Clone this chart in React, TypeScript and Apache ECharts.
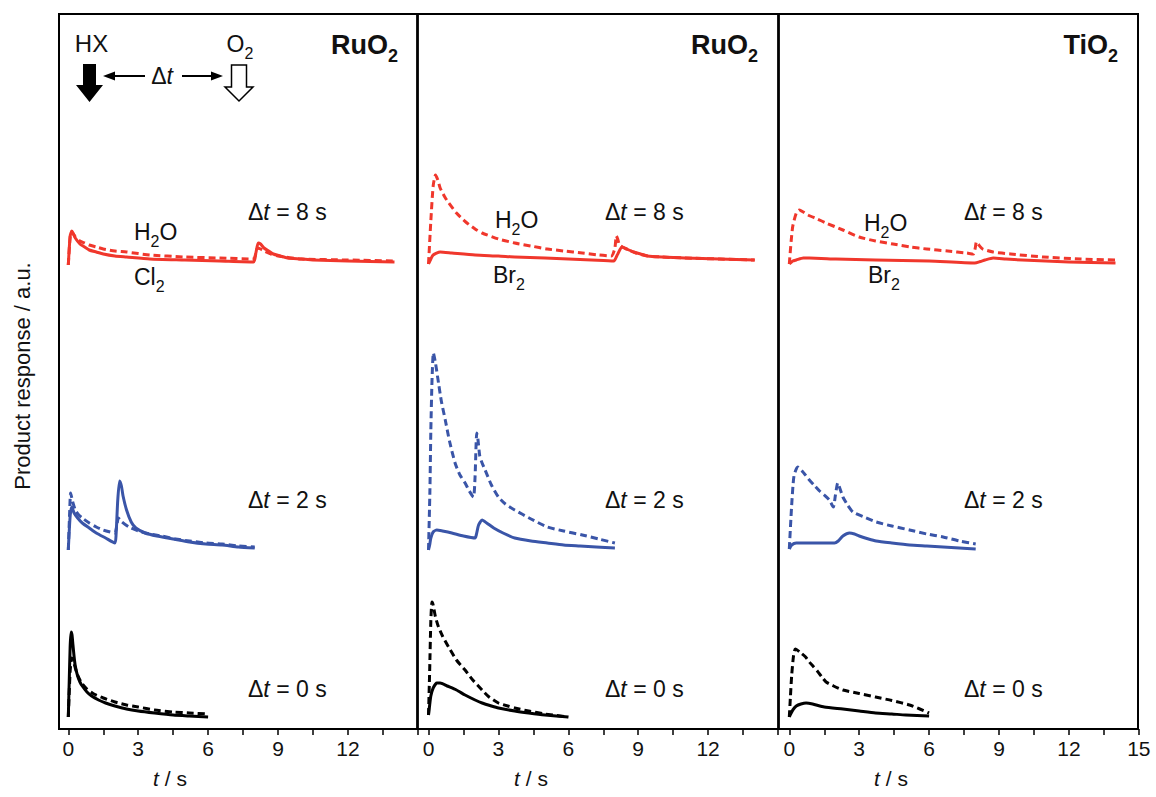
import React, { useEffect, useRef } from "react";
import * as echarts from "echarts";

// ---- data: [t (s), product response (a.u., stacked offset)] ----
const p1Dt0Cl2 = [[0,1.4],[0.04,5],[0.08,8.5],[0.12,9.9],[0.16,9.6],[0.2,8.6],[0.25,7.4],[0.3,6.5],[0.4,5.5],[0.5,4.9],[0.6,4.5],[0.8,3.9],[1.0,3.5],[1.3,3.1],[1.6,2.8],[2.0,2.5],[2.5,2.2],[3,2.0],[3.7,1.8],[4.5,1.6],[5.2,1.5],[6,1.4]];
const p1Dt0H2O = [[0,1.4],[0.08,6.0],[0.15,7.3],[0.22,7.0],[0.3,6.3],[0.4,5.6],[0.57,4.8],[0.8,4.2],[1.1,3.7],[1.5,3.3],[2.0,2.9],[2.5,2.6],[3,2.4],[3.7,2.1],[4.5,1.9],[5.2,1.8],[6,1.7]];
const p1Dt2Cl2 = [[0,18.1],[0.08,21.5],[0.15,22.4],[0.25,21.8],[0.4,21.3],[0.6,20.8],[0.9,20.3],[1.2,19.8],[1.6,19.3],[2.0,18.8],[2.05,19.6],[2.12,23.0],[2.2,25.0],[2.28,24.5],[2.35,23.5],[2.5,22.1],[2.7,20.9],[2.9,20.3],[3.3,19.8],[3.8,19.5],[4.5,19.2],[5.2,18.9],[5.9,18.7],[6.6,18.6],[7.3,18.4],[8,18.3]];
const p1Dt2H2O = [[0,18.1],[0.06,22.0],[0.1,23.8],[0.18,23.0],[0.3,22.1],[0.45,21.6],[0.6,21.3],[0.9,20.8],[1.2,20.4],[1.5,20.1],[1.8,19.9],[2.0,19.8],[2.08,20.5],[2.15,21.3],[2.3,20.9],[2.6,20.4],[3.0,20.0],[3.5,19.7],[4,19.5],[4.6,19.2],[5.2,19.0],[5.9,18.8],[6.6,18.7],[7.3,18.5],[8,18.4]];
const p1Dt8Cl2 = [[0,46.6],[0.08,49.5],[0.15,50.0],[0.22,49.7],[0.3,49.3],[0.5,48.7],[0.7,48.4],[0.9,48.1],[1.2,47.9],[1.5,47.7],[2.0,47.5],[2.5,47.4],[3.5,47.2],[5,47.1],[6.5,47.0],[7.95,46.9],[8.05,47.8],[8.15,48.8],[8.25,48.7],[8.4,48.3],[8.6,48.0],[8.8,47.7],[9.1,47.5],[9.4,47.3],[10,47.2],[10.5,47.1],[12,47.0],[14,46.9]];
const p1Dt8H2O = [[0,46.6],[0.08,49.4],[0.15,49.9],[0.22,49.7],[0.3,49.4],[0.5,49.0],[0.7,48.8],[0.9,48.6],[1.2,48.4],[1.5,48.2],[2.0,48.0],[2.5,47.9],[3.5,47.6],[5,47.4],[6.5,47.3],[7.95,47.2],[8.05,47.8],[8.12,48.3],[8.25,48.2],[8.4,48.0],[8.7,47.7],[9,47.5],[10,47.2],[12,47.1],[14,47.0]];

const p2Dt0Br2 = [[0,1.6],[0.05,2.6],[0.1,3.5],[0.2,4.3],[0.36,4.8],[0.5,4.8],[0.8,4.5],[1.2,4.1],[1.57,3.6],[2.0,3.1],[2.3,2.8],[2.7,2.5],[3,2.3],[3.7,2.0],[4.3,1.8],[5,1.6],[6,1.4]];
const p2Dt0H2O = [[0,1.6],[0.05,6],[0.1,11],[0.15,12.9],[0.2,12.6],[0.3,11.4],[0.43,10.4],[0.6,9.5],[0.86,8.4],[1.2,7.1],[1.57,6.1],[1.9,5.1],[2.3,4.1],[2.6,3.4],[3.0,2.8],[3.4,2.5],[3.7,2.3],[4.3,2.0],[5,1.7],[6,1.4]];
const p2Dt2Br2 = [[0,18.1],[0.05,18.6],[0.1,19.3],[0.2,19.9],[0.36,20.1],[0.6,20.0],[1,19.8],[1.5,19.5],[2.0,19.3],[2.05,19.6],[2.15,20.6],[2.3,21.1],[2.5,20.8],[2.8,20.3],[3.2,19.8],[3.7,19.3],[4.4,19.0],[5.1,18.8],[5.8,18.6],[6.5,18.5],[7.2,18.4],[8,18.3]];
const p2Dt2H2O = [[0,18.1],[0.06,24],[0.1,30],[0.15,35],[0.21,37.8],[0.3,36.8],[0.43,34.8],[0.55,33.0],[0.72,31.1],[0.9,29.0],[1.14,26.8],[1.35,25.6],[1.57,24.8],[1.75,24.0],[1.93,23.4],[2.0,25.5],[2.04,28.5],[2.07,29.8],[2.12,29.2],[2.2,27.5],[2.3,26.8],[2.43,26.1],[2.7,24.6],[3.0,23.4],[3.3,22.7],[3.7,22.1],[4.4,21.2],[5.1,20.4],[5.8,20.0],[6.6,19.6],[7.3,19.2],[8,18.8]];
const p2Dt8Br2 = [[0,46.7],[0.1,47.2],[0.2,47.6],[0.5,47.9],[1,47.8],[2,47.6],[3,47.5],[3.7,47.4],[5,47.3],[6,47.2],[7,47.1],[7.95,47.0],[8.1,47.6],[8.3,48.4],[8.5,48.2],[8.8,47.9],[9.1,47.7],[9.4,47.5],[10,47.4],[11,47.3],[12.5,47.2],[14,47.1]];
const p2Dt8H2O = [[0,46.7],[0.1,51],[0.2,54.5],[0.3,55.6],[0.4,55.1],[0.5,54.3],[0.7,53.4],[0.87,52.8],[1.2,51.8],[1.6,50.9],[2.0,50.2],[2.3,49.8],[3.0,49.2],[3.7,48.8],[4.4,48.5],[5.1,48.2],[5.8,48.0],[6.6,47.8],[7.3,47.6],[7.85,47.5],[8.0,48.3],[8.06,49.5],[8.12,49.2],[8.2,48.6],[8.5,48.2],[8.9,47.8],[9.4,47.5],[10,47.4],[11,47.3],[12.5,47.2],[14,47.1]];

const p3Dt0Br2 = [[0,1.4],[0.08,1.8],[0.15,2.1],[0.3,2.5],[0.5,2.7],[0.72,2.8],[1.0,2.7],[1.5,2.4],[2.3,2.2],[3.0,2.0],[3.7,1.8],[4.4,1.7],[5,1.6],[6,1.5]];
const p3Dt0H2O = [[0,1.4],[0.05,3.5],[0.1,5.5],[0.18,7.5],[0.26,8.2],[0.5,7.8],[0.7,7.4],[0.86,6.9],[1.05,6.4],[1.2,6.0],[1.4,5.4],[1.58,4.9],[1.9,4.5],[2.3,4.1],[3.0,3.75],[3.7,3.4],[4.4,3.05],[5.16,2.6],[5.6,2.2],[6,1.8]];
const p3Dt2Br2 = [[0,18.2],[0.1,18.6],[0.3,18.8],[1,18.8],[1.94,18.8],[2.1,19.0],[2.3,19.5],[2.58,19.8],[2.8,19.7],[3.0,19.5],[3.4,19.2],[3.73,19.0],[4.4,18.8],[5.16,18.6],[5.9,18.5],[6.6,18.4],[7.3,18.3],[8,18.2]];
const p3Dt2H2O = [[0,18.2],[0.1,22.5],[0.2,25.5],[0.36,26.4],[0.55,26.0],[0.86,25.1],[1.1,24.5],[1.3,24.0],[1.5,23.6],[1.72,23.1],[1.89,22.4],[1.98,23.6],[2.08,24.8],[2.18,24.2],[2.3,23.4],[2.5,22.6],[2.73,21.9],[3.2,21.4],[3.73,20.9],[4.4,20.5],[5.16,20.1],[5.9,19.7],[6.6,19.4],[7.3,19.0],[8,18.7]];
const p3Dt8Br2 = [[0,46.7],[0.15,47.0],[0.3,47.1],[0.6,47.3],[0.86,47.3],[2,47.2],[3.7,47.1],[6,47.0],[7.96,46.8],[8.2,46.95],[8.4,47.1],[8.75,47.3],[9.3,47.2],[10,47.1],[12,46.9],[14,46.8]];
const p3Dt8H2O = [[0,46.7],[0.08,49],[0.15,50.5],[0.3,51.8],[0.43,52.1],[0.6,51.9],[0.8,51.6],[1.2,51.2],[1.58,50.8],[2.3,50.1],[3.0,49.4],[3.7,49.0],[4.45,48.7],[5.2,48.4],[5.9,48.2],[6.8,48.0],[7.6,47.8],[7.9,47.7],[7.98,48.3],[8.03,48.9],[8.1,48.7],[8.3,48.2],[8.75,47.9],[9.5,47.7],[10.9,47.4],[12.5,47.2],[14,47.1]];

const panelTitles = ["RuO{s|2}", "RuO{s|2}", "TiO{s|2}"];
const deltaLabels = ["Δ{i|t} = 8 s", "Δ{i|t} = 2 s", "Δ{i|t} = 0 s"];
const xTickStep = 1.5;
const xLabelStep = 3;

const RED = "#f0372c";
const BLUE = "#3a55a8";
const BLACK = "#000000";
const FF = "Liberation Sans, Arial, Helvetica, sans-serif";

function rich(fs: number, bold = false) {
  const w = bold ? "bold" : "normal";
  return {
    n: { fontSize: fs, fontFamily: FF, fill: "#111", fontWeight: w, verticalAlign: "middle" },
    s: { fontSize: Math.round(fs * 0.68), fontFamily: FF, fill: "#111", fontWeight: w, verticalAlign: "middle", padding: [Math.round(fs * 0.8), 0, 0, 0] },
    i: { fontSize: fs, fontFamily: FF, fill: "#111", fontStyle: "italic", fontWeight: w, verticalAlign: "middle" },
  };
}
function rt(s: string) {
  const out: string[] = [];
  const re = /\{(\w)\|([^}]*)\}/g;
  let last = 0;
  let m: RegExpExecArray | null;
  while ((m = re.exec(s))) {
    if (m.index > last) out.push(`{n|${s.slice(last, m.index)}}`);
    out.push(m[0]);
    last = m.index + m[0].length;
  }
  if (last < s.length) out.push(`{n|${s.slice(last)}}`);
  return out.join("");
}
function txt(x: number, y: number, s: string, fs = 23, align = "left", bold = false) {
  return {
    type: "text",
    x, y,
    silent: true,
    style: { text: rt(s), rich: rich(fs, bold), align, verticalAlign: "middle", fill: "#111", fontSize: fs, fontFamily: FF },
  };
}

export default function App() {
  const ref = useRef<HTMLDivElement>(null);
  useEffect(() => {
    if (!ref.current) return;
    const chart = echarts.init(ref.current, null, { renderer: "svg" });
    const gridLefts = [68.3, 428.5, 789.3];
    const grids = gridLefts.map((l) => ({ left: l, width: 349.5, top: 14, bottom: 68, containLabel: false }));
    const xAxes = gridLefts.map((_, i) => ({
      type: "value",
      gridIndex: i,
      min: 0,
      max: 15,
      interval: xTickStep,
      axisLine: { show: false },
      splitLine: { show: false },
      axisTick: { show: true, inside: false, length: 6, lineStyle: { color: "#000", width: 1.5 } },
      axisLabel: {
        margin: 9,
        fontSize: 21,
        fontFamily: FF,
        color: "#111",
        showMaxLabel: true,
        showMinLabel: true,
        formatter: (v: number) => {
          if (Math.abs(v / xLabelStep - Math.round(v / xLabelStep)) > 1e-6) return "";
          if (i < 2 && v >= 15) return "";
          return String(Math.round(v));
        },
      },
    }));
    const yAxes = gridLefts.map((_, i) => ({
      type: "value", gridIndex: i, min: 0.2, max: 71.7, show: false,
      axisLine: { show: false }, axisTick: { show: false }, axisLabel: { show: false }, splitLine: { show: false },
    }));
    const mk = (data: number[][], g: number, color: string, dashed: boolean) => ({
      type: "line",
      xAxisIndex: g,
      yAxisIndex: g,
      data,
      showSymbol: false,
      symbol: "none",
      smooth: 0.2,
      silent: true,
      z: dashed ? 3 : 2,
      lineStyle: { color, width: 3, type: dashed ? [7, 4] : "solid", cap: "butt", join: "round" },
    });
    const series = [
      mk(p1Dt0H2O, 0, BLACK, true), mk(p1Dt0Cl2, 0, BLACK, false),
      mk(p1Dt2H2O, 0, BLUE, true), mk(p1Dt2Cl2, 0, BLUE, false),
      mk(p1Dt8H2O, 0, RED, true), mk(p1Dt8Cl2, 0, RED, false),
      mk(p2Dt0H2O, 1, BLACK, true), mk(p2Dt0Br2, 1, BLACK, false),
      mk(p2Dt2H2O, 1, BLUE, true), mk(p2Dt2Br2, 1, BLUE, false),
      mk(p2Dt8H2O, 1, RED, true), mk(p2Dt8Br2, 1, RED, false),
      mk(p3Dt0H2O, 2, BLACK, true), mk(p3Dt0Br2, 2, BLACK, false),
      mk(p3Dt2H2O, 2, BLUE, true), mk(p3Dt2Br2, 2, BLUE, false),
      mk(p3Dt8H2O, 2, RED, true), mk(p3Dt8Br2, 2, RED, false),
    ];
    const deltaX = [248, 605, 964];
    const deltaY = [212, 500, 689];
    const graphic: any[] = [
      { type: "rect", shape: { x: 59, y: 14, width: 1079, height: 715 }, style: { fill: "none", stroke: "#000", lineWidth: 2 }, silent: true, z: 10 },
      { type: "line", shape: { x1: 417.5, y1: 14, x2: 417.5, y2: 729 }, style: { stroke: "#000", lineWidth: 2.8 }, silent: true, z: 10 },
      { type: "line", shape: { x1: 778.5, y1: 14, x2: 778.5, y2: 729 }, style: { stroke: "#000", lineWidth: 2.8 }, silent: true, z: 10 },
      txt(398, 45, panelTitles[0], 27, "right", true),
      txt(758, 45, panelTitles[1], 27, "right", true),
      txt(1118, 45, panelTitles[2], 27, "right", true),
      txt(91.5, 43.5, "HX", 24, "center"),
      txt(240, 44, "O{s|2}", 23, "center"),
      txt(162, 76, "Δ{i|t}", 23, "center"),
      { type: "polygon", shape: { points: [[83, 64], [96, 64], [96, 85], [103, 85], [89.5, 102], [76, 85], [83, 85]] }, style: { fill: "#000" }, silent: true },
      { type: "polygon", shape: { points: [[231.5, 65], [246.5, 65], [246.5, 87], [253, 87], [239, 101], [225, 87], [231.5, 87]] }, style: { fill: "#fff", stroke: "#000", lineWidth: 1.5 }, silent: true },
      { type: "line", shape: { x1: 112, y1: 76, x2: 145, y2: 76 }, style: { stroke: "#000", lineWidth: 2 }, silent: true },
      { type: "polygon", shape: { points: [[103, 76], [115, 71.5], [115, 80.5]] }, style: { fill: "#000" }, silent: true },
      { type: "line", shape: { x1: 182, y1: 76, x2: 214, y2: 76 }, style: { stroke: "#000", lineWidth: 2 }, silent: true },
      { type: "polygon", shape: { points: [[223, 76], [211, 71.5], [211, 80.5]] }, style: { fill: "#000" }, silent: true },
      txt(134, 232, "H{s|2}O"),
      txt(134, 277, "Cl{s|2}"),
      txt(495, 220, "H{s|2}O"),
      txt(493, 275, "Br{s|2}"),
      txt(864, 223, "H{s|2}O"),
      txt(868, 275, "Br{s|2}"),
      txt(170, 778, "{i|t} / s", 21, "center"),
      txt(531, 778, "{i|t} / s", 21, "center"),
      txt(891, 778, "{i|t} / s", 21, "center"),
      {
        type: "text", x: 22, y: 376, rotation: Math.PI / 2, silent: true,
        style: { text: "Product response / a.u.", fontSize: 22, fontFamily: FF, fill: "#111", align: "center", verticalAlign: "middle" },
      },
    ];
    deltaX.forEach((x) => deltaY.forEach((y, j) => graphic.push(txt(x, y, deltaLabels[j]))));
    chart.setOption({
      animation: false,
      backgroundColor: "#fff",
      grid: grids,
      xAxis: xAxes,
      yAxis: yAxes,
      series,
      graphic,
    });
    return () => chart.dispose();
  }, []);
  return <div ref={ref} style={{ position: "fixed", left: 0, top: 0, width: 1156, height: 797 }} />;
}
